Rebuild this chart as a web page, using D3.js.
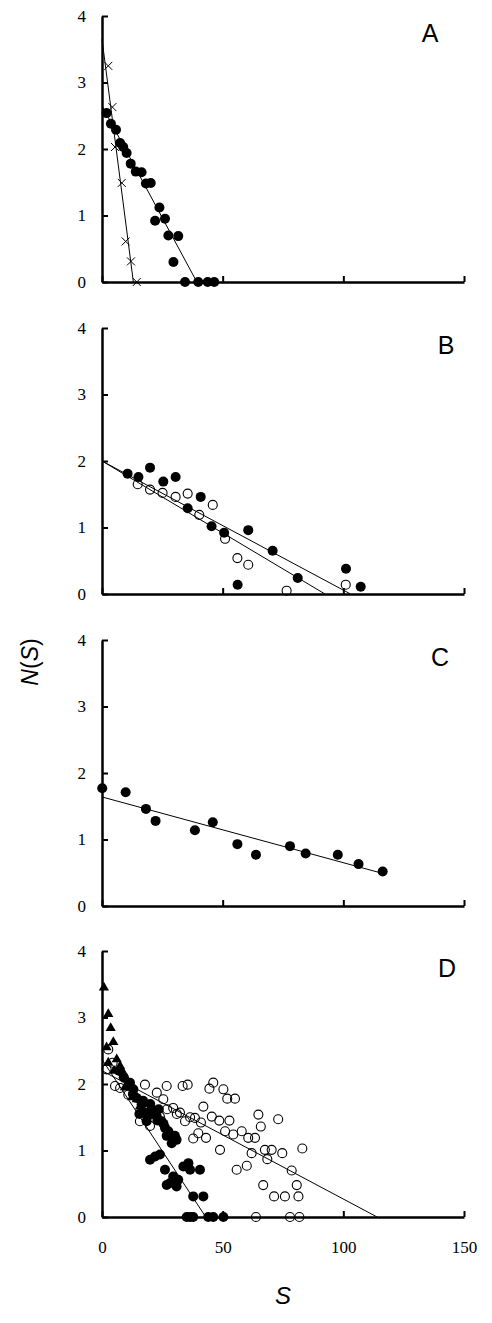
<!DOCTYPE html>
<html>
<head>
<meta charset="utf-8">
<script src="https://cdn.jsdelivr.net/npm/d3@7"></script>
<style>
  body { margin: 0; background: #fff; }
</style>
</head>
<body>
<div id="chart"></div>
<script>
// Values: [S, N(S)]
const aCross = [[2.6, 3.25], [4.3, 2.63], [5.4, 2.03], [8.2, 1.49], [9.8, 0.61], [12.0, 0.31], [14.4, 0]]
const aFilled = [[1.9, 2.54], [3.7, 2.38], [5.8, 2.29], [7.5, 2.09], [8.8, 2.03], [10.2, 1.94], [11.9, 1.78],
  [14.0, 1.66], [16.4, 1.65], [18.2, 1.48], [20.2, 1.49], [23.8, 1.12], [22.0, 0.92], [26.1, 0.95],
  [27.5, 0.70], [31.6, 0.69], [29.6, 0.30], [34.4, 0], [39.9, 0], [43.8, 0], [46.5, 0]]
const aLines = [[[0, 3.65], [13, 0]], [[0, 2.65], [39.3, 0]]]

const bFilled = [[10.6, 1.81], [15.1, 1.76], [19.9, 1.90], [25.4, 1.69], [30.5, 1.76], [35.5, 1.29],
  [40.9, 1.46], [45.4, 1.02], [50.6, 0.92], [60.6, 0.96], [70.7, 0.65], [56.2, 0.14], [81.1, 0.24],
  [101.1, 0.38], [107.2, 0.11]]
const bOpen = [[14.8, 1.65], [19.9, 1.57], [25.1, 1.52], [30.5, 1.46], [35.5, 1.51], [40.3, 1.19],
  [45.9, 1.34], [51.0, 0.83], [56.1, 0.54], [60.6, 0.44], [76.5, 0.05], [101.0, 0.14]]
const bLines = [[[0, 2.0], [103, 0]], [[0, 2.0], [92.4, 0]]]

const cFilled = [[0.1, 1.77], [9.8, 1.71], [18.2, 1.46], [22.2, 1.28], [38.5, 1.14], [45.9, 1.26],
  [56.1, 0.93], [63.8, 0.77], [77.9, 0.90], [84.4, 0.79], [97.7, 0.77], [106.3, 0.63], [116.3, 0.52]]
const cLines = [[[0, 1.64], [116.3, 0.49]]]

const dTriangle = [[0.8, 3.45], [2.6, 3.05], [3.6, 2.84], [4.7, 2.63], [1.9, 2.55], [6.1, 2.37], [2.6, 2.32],
  [7.5, 2.27], [8.8, 2.17], [10.2, 2.07], [11.6, 1.97], [13.0, 1.87], [14.4, 1.77], [15.7, 1.66],
  [5.0, 2.2], [9.5, 1.95], [12.5, 1.8], [17.0, 1.6]]
const dFilled = [[11.6, 2.02], [13, 1.92], [14.4, 1.79], [16.4, 1.69], [17.8, 1.57], [18.5, 1.44], [20.6, 1.62],
  [22.7, 1.51], [24.7, 1.44], [26.1, 1.34], [27.5, 1.29], [28.9, 1.11], [30.9, 1.16], [30.2, 1.22],
  [19.9, 0.86], [22, 0.91], [24, 0.94], [26.1, 0.71], [29.5, 0.61], [28.2, 0.51], [31.6, 0.56],
  [33.7, 0.76], [35.8, 0.81], [30.9, 0.46], [26.8, 0.48], [36.5, 0.71], [40.6, 0.71], [37.8, 0.31],
  [42, 0.31], [35.1, 0], [36.5, 0], [37.8, 0], [44, 0], [46.1, 0], [50.3, 0], [9, 2.1], [7, 2.2],
  [15.5, 1.55], [20, 1.7], [23.5, 1.62], [12.8, 1.85], [17, 1.75], [21.5, 1.55], [25.5, 1.4],
  [19, 1.52], [23, 1.45], [26.8, 1.22], [29.5, 1.2]]
const dOpen = [[2.6, 2.52], [1.9, 2.22], [4.4, 2.32], [5.4, 1.97], [7.5, 1.94], [10.9, 1.84], [15.7, 1.44],
  [19.9, 1.37], [17.8, 1.99], [22.7, 1.87], [24, 1.51], [25.4, 1.77], [26.8, 1.97], [29.5, 1.64],
  [32.3, 1.57], [33.4, 1.97], [35.5, 1.99], [34.4, 1.44], [38.5, 1.49], [37.8, 1.18], [39.9, 1.26],
  [42, 1.66], [43.1, 1.19], [44.5, 1.93], [45.5, 1.51], [46.1, 2.02], [48.6, 1.45], [48.9, 1.01],
  [50.3, 1.92], [51.9, 1.78], [51, 1.29], [52.8, 1.45], [54.4, 1.24], [55.1, 1.78], [55.8, 0.71],
  [57.9, 1.29], [60, 0.77], [60.6, 1.19], [62, 0.96], [63.4, 1.19], [63.8, 0], [64.8, 1.54], [65.8, 1.36],
  [66.8, 0.48], [67.5, 1.01], [68.5, 0.87], [70.3, 1.01], [71.3, 0.31], [73, 1.47], [74.7, 0.96],
  [75.8, 0.31], [77.9, 0], [78.6, 0.7], [80.7, 0.48], [81.4, 0.31], [81.8, 0], [83, 1.03], [27, 1.62],
  [31, 1.55], [36.5, 1.5], [41, 1.42]]
const dLines = [[[0, 2.37], [43, 0]], [[0, 2.2], [114, 0]]]

const xTicks = [0, 50, 100, 150]
const yTicks = [0, 1, 2, 3, 4]

// Canvas
const width = 492,
  height = 1323,
  left = 102,
  right = 464,
  panelH = 266,
  tops = [16, 328, 640, 951]

const svg = d3.select('#chart')
  .append('svg')
  .attr('width', width)
  .attr('height', height)

const xScale = d3.scaleLinear().domain([0, 150]).range([left, right])

const panels = [
  { label: 'A', lx: 430, cross: aCross, filled: aFilled, lines: aLines },
  { label: 'B', lx: 446, filled: bFilled, open: bOpen, lines: bLines },
  { label: 'C', lx: 440, filled: cFilled, lines: cLines },
  { label: 'D', lx: 447, triangle: dTriangle, filled: dFilled, open: dOpen, lines: dLines }
]

panels.forEach((p, i) => {
  const top = tops[i]
  const yScale = d3.scaleLinear().domain([0, 4]).range([top + panelH, top])
  const g = svg.append('g')

  // axes
  const yAxis = d3.axisLeft(yScale).tickValues(yTicks).tickFormat(d3.format('d'))
    .tickSize(-6).tickSizeOuter(0).tickPadding(16)
  g.append('g').attr('transform', `translate(${left},0)`).call(yAxis)

  const xAxis = d3.axisBottom(xScale).tickValues(xTicks).tickFormat(d3.format('d'))
    .tickSize(-6).tickSizeOuter(0).tickPadding(24)
  const xg = g.append('g').attr('transform', `translate(0,${top + panelH})`).call(xAxis)
  if (i < 3) xg.selectAll('.tick text').remove()

  g.selectAll('.domain').attr('stroke-width', 2.5)
  g.selectAll('.tick line').attr('stroke-width', 2)
  g.selectAll('.tick text')
    .style('font-family', 'Liberation Serif, Times New Roman, serif')
    .style('font-size', '17px')

  // fitted lines
  const line = d3.line().x(d => xScale(d[0])).y(d => yScale(d[1]))
  g.selectAll('path.fit')
    .data(p.lines)
    .enter()
    .append('path')
    .attr('class', 'fit')
    .attr('d', line)
    .attr('fill', 'none')
    .attr('stroke', '#000')
    .attr('stroke-width', 1)

  if (p.open) {
    g.selectAll('circle.open')
      .data(p.open)
      .enter()
      .append('circle')
      .attr('class', 'open')
      .attr('cx', d => xScale(d[0]))
      .attr('cy', d => yScale(d[1]))
      .attr('r', 4.5)
      .attr('fill', 'none')
      .attr('stroke', '#000')
      .attr('stroke-width', 1.1)
  }

  if (p.filled) {
    g.selectAll('circle.filled')
      .data(p.filled)
      .enter()
      .append('circle')
      .attr('class', 'filled')
      .attr('cx', d => xScale(d[0]))
      .attr('cy', d => yScale(d[1]))
      .attr('r', 5)
      .attr('fill', '#000')
  }

  if (p.triangle) {
    g.selectAll('path.tri')
      .data(p.triangle)
      .enter()
      .append('path')
      .attr('class', 'tri')
      .attr('d', d3.symbol().type(d3.symbolTriangle).size(45))
      .attr('transform', d => `translate(${xScale(d[0])},${yScale(d[1])})`)
      .attr('fill', '#000')
  }

  if (p.cross) {
    g.selectAll('path.cross')
      .data(p.cross)
      .enter()
      .append('path')
      .attr('class', 'cross')
      .attr('d', 'M-4,-4L4,4M-4,4L4,-4')
      .attr('transform', d => `translate(${xScale(d[0])},${yScale(d[1])})`)
      .attr('stroke', '#000')
      .attr('stroke-width', 1)
  }

  g.append('text')
    .attr('x', p.lx)
    .attr('y', top + 26)
    .attr('text-anchor', 'middle')
    .style('font-family', 'Liberation Sans, Arial, sans-serif')
    .style('font-size', '25px')
    .text(p.label)
})

// axis titles
const yTitle = svg.append('text')
  .attr('transform', 'translate(38,662) rotate(-90)')
  .attr('text-anchor', 'middle')
  .style('font-family', 'Liberation Sans, Arial, sans-serif')
  .style('font-size', '23px')
yTitle.append('tspan').style('font-style', 'italic').text('N')
yTitle.append('tspan').text('(')
yTitle.append('tspan').style('font-style', 'italic').text('S')
yTitle.append('tspan').text(')')

svg.append('text')
  .attr('x', 283)
  .attr('y', 1304)
  .attr('text-anchor', 'middle')
  .style('font-family', 'Liberation Sans, Arial, sans-serif')
  .style('font-size', '24px')
  .style('font-style', 'italic')
  .text('S')
</script>
</body>
</html>
